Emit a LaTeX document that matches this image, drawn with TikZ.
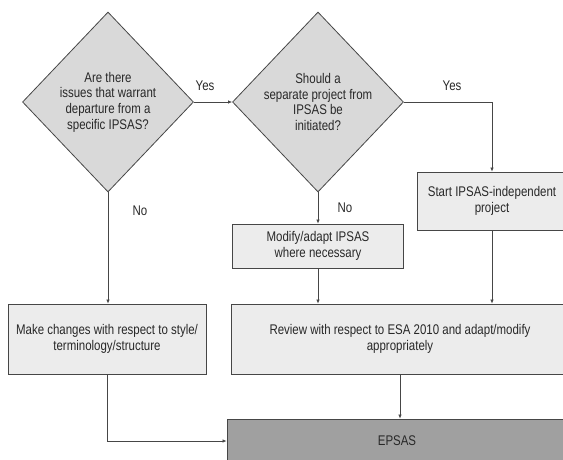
\documentclass[tikz,border=0pt]{standalone}
\usepackage{fontspec}
\setmainfont{Liberation Sans}[FakeStretch=0.82]
\usetikzlibrary{positioning,shapes.geometric,arrows.meta}
\definecolor{linegray}{RGB}{70,70,70}
\definecolor{diamondgray}{RGB}{217,217,217}
\definecolor{boxgray}{RGB}{236,236,236}
\definecolor{epsasgray}{RGB}{160,160,160}
\definecolor{textgray}{RGB}{40,40,40}
\tikzset{
  decision/.style={diamond, draw=linegray, line width=0.8pt, fill=diamondgray, minimum width=171pt, minimum height=180pt, inner sep=0pt, align=center, text=textgray, font=\fontsize{14}{15.7}\selectfont},
  process/.style={rectangle, draw=linegray, line width=0.8pt, fill=boxgray, inner sep=0pt, align=center, text=textgray, font=\fontsize{14}{16}\selectfont},
  flow/.style={-{Latex[length=4pt,width=3.5pt]}, draw=linegray, line width=0.7pt},
  answer/.style={text=textgray, font=\fontsize{14}{14}\selectfont}
}

\begin{document}
\begin{tikzpicture}[x=1pt, y=-1pt]
\useasboundingbox (0,0) rectangle (563,459);
\clip (0,0) rectangle (563,459);

% Nodes
\node[decision] (issues) at (108,102) {Are there\\issues that warrant\\departure from a\\specific IPSAS?};
\node[decision] (separate) at (318,102) {Should a\\separate project from\\IPSAS be\\initiated?};
\node[process, minimum width=150pt, minimum height=58pt] (start) at (492,201) {Start IPSAS-independent\\project};
\node[process, minimum width=171pt, minimum height=44pt] (modify) at (318,246) {Modify/adapt IPSAS\\where necessary};
\node[process, minimum width=198pt, minimum height=70pt] (changes) at (107,339) {Make changes with respect to style/\\terminology/structure};
\node[process, minimum width=338pt, minimum height=70pt] (review) at (400,339) {Review with respect to ESA 2010 and adapt/modify\\appropriately};
\node[process, fill=epsasgray, minimum width=340pt, minimum height=44pt] (epsas) at (397,441) {EPSAS};

% Labels
\node[answer] (yesa) at (205,86) {Yes};
\node[answer] (yesb) at (452,86) {Yes};
\node[answer] (noa) at (140,211) {No};
\node[answer] (nob) at (345,208) {No};

% Edges
\draw[flow] (issues.east) -- (separate.west);
\draw[flow] (separate.east) -| (start.north);
\draw[flow] (issues.south) -- (changes.north -| issues.south);
\draw[flow] (separate.south) -- (modify.north);
\draw[flow] (modify.south) -- (modify.south |- review.north);
\draw[flow] (start.south) -- (start.south |- review.north);
\draw[flow] (review.south) -- (review.south |- epsas.north);
\draw[flow] (changes.south) |- (epsas.west);
\end{tikzpicture}
\end{document}
